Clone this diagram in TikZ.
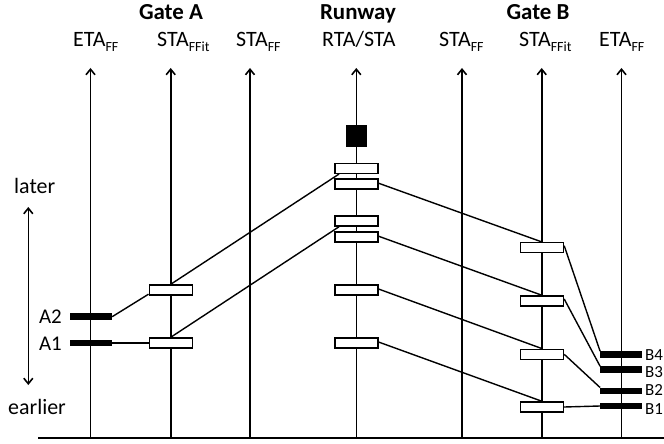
\documentclass[tikz,border=0pt]{standalone}
\usepackage{fontspec}
\setmainfont{Carlito}
\usetikzlibrary{arrows.meta,calc}
\newcommand\subff[1]{\raisebox{-4.5bp}{\fontsize{14}{14}\selectfont #1}}
\begin{document}
\begin{tikzpicture}[x=1bp,y=-1bp,
  axisline/.style={line width=1.6bp,-{Straight Barb[length=5.5bp,width=9bp,line width=1.6bp]}},
  bothtips/.style={line width=1.6bp,{Straight Barb[length=5.5bp,width=9bp,line width=1.6bp]}-{Straight Barb[length=5.5bp,width=9bp,line width=1.6bp]}},
  wbox/.style={draw,line width=1.4bp,fill=white,minimum width=43bp,minimum height=10bp,inner sep=0pt},
  bbar/.style={fill=black,minimum width=42bp,minimum height=6.5bp,inner sep=0pt},
  conn/.style={line width=1.4bp},
  lbl/.style={anchor=base west,inner sep=0pt,font=\fontsize{22}{22}\selectfont},
  ttl/.style={anchor=base,inner sep=0pt,font=\fontsize{23}{23}\selectfont\bfseries},
  side/.style={anchor=base west,inner sep=0pt,font=\fontsize{22}{22}\selectfont},
  alab/.style={anchor=east,inner sep=0pt,font=\fontsize{21}{21}\selectfont},
  blab/.style={anchor=base west,inner sep=0pt,font=\fontsize{17}{17}\selectfont},
]
\useasboundingbox (0,0) rectangle (664,444);

% titles
\node[ttl] (tA) at (171,20) {Gate A};
\node[ttl] (tR) at (358,20) {Runway};
\node[ttl] (tB) at (538,20) {Gate B};

% axis labels
\node[lbl] (l1) at (73,47) {ETA\subff{FF}};
\node[lbl] (l2) at (157,47) {STA\subff{FFit}};
\node[lbl] (l3) at (236,47) {STA\subff{FF}};
\node[lbl] (l4) at (322,47) {RTA/STA};
\node[lbl] (l5) at (439,47) {STA\subff{FF}};
\node[lbl] (l6) at (519,47) {STA\subff{FFit}};
\node[lbl] (l7) at (599,47) {ETA\subff{FF}};

% axes
\coordinate (b1) at (90.5,438);  \coordinate (t1) at (90.5,68);
\coordinate (b2) at (170.7,438); \coordinate (t2) at (170.7,68);
\coordinate (b3) at (250,438);   \coordinate (t3) at (250,68);
\coordinate (b4) at (356.3,438); \coordinate (t4) at (356.3,68);
\coordinate (b5) at (462,438);   \coordinate (t5) at (462,68);
\coordinate (b6) at (541.7,438); \coordinate (t6) at (541.7,68);
\coordinate (b7) at (621.5,438); \coordinate (t7) at (621.5,68);
\foreach \i in {1,...,7} \draw[axisline] (b\i) -- (t\i);

% baseline
\coordinate (base0) at (38,438);
\coordinate (base1) at (664,438);
\draw[line width=2.2bp] (base0) -- (base1);

% time direction arrow
\coordinate (dtop) at (28.3,207);
\coordinate (dbot) at (28.3,385);
\draw[bothtips] (dtop) -- (dbot);
\node[side] (later) at (14,194) {later};
\node[side] (earlier) at (8,414) {earlier};

% runway
\node[fill=black,minimum width=21bp,minimum height=22bp,inner sep=0pt] (rsq) at (356.8,136) {};
\node[wbox] (r1) at (356.3,168.3) {};
\node[wbox] (r2) at (356.3,184.2) {};
\node[wbox] (r3) at (356.3,221) {};
\node[wbox] (r4) at (356.3,237.2) {};
\node[wbox] (r5) at (356.3,290) {};
\node[wbox] (r6) at (356.3,343) {};

% gate A
\node[bbar] (A2) at (91,316.7) {};
\node[bbar] (A1) at (91,343) {};
\node[alab] (A2l) at (62,317) {A2};
\node[alab] (A1l) at (62,344) {A1};
\node[wbox] (ga2) at (170.7,290) {};
\node[wbox] (ga1) at (170.7,343) {};

% gate B
\node[wbox] (gb1) at (542,247.7) {};
\node[wbox] (gb2) at (542,301) {};
\node[wbox] (gb3) at (542,354.3) {};
\node[wbox] (gb4) at (542,407) {};
\node[bbar] (B4) at (621.3,354.7) {};
\node[bbar] (B3) at (621.3,369.7) {};
\node[bbar] (B2) at (621.3,391) {};
\node[bbar] (B1) at (621.3,406) {};
\node[blab] (B4l) at (645,360.5) {B4};
\node[blab] (B3l) at (645,377) {B3};
\node[blab] (B2l) at (645,395.5) {B2};
\node[blab] (B1l) at (645,414.5) {B1};

% connectors gate A
\draw[conn] (A2.east) -- ($(ga2.south west)+(0,-1.5)$);
\draw[conn] (A1.east) -- (ga1.west);
\draw[conn] (ga2.north) -- ($(r1.south west)+(5,0)$);
\draw[conn] (ga1.north) -- ($(r3.south west)+(5,0)$);

% connectors runway -> gate B
\draw[conn] ($(r2.east)+(0,-1)$) -- (gb1.north);
\draw[conn] ($(r4.east)+(0,-1)$) -- (gb2.north);
\draw[conn] ($(r5.east)+(0,-1)$) -- (gb3.north);
\draw[conn] ($(r6.east)+(0,-1)$) -- (gb4.north);

% connectors gate B -> bars
\draw[conn] ($(gb1.east)+(0,-2)$) -- (B4.north west);
\draw[conn] ($(gb2.east)+(0,-2)$) -- (B3.north west);
\draw[conn] (gb3.east) -- (B2.north west);
\draw[conn] (gb4.east) -- (B1.west);
\end{tikzpicture}
\end{document}
